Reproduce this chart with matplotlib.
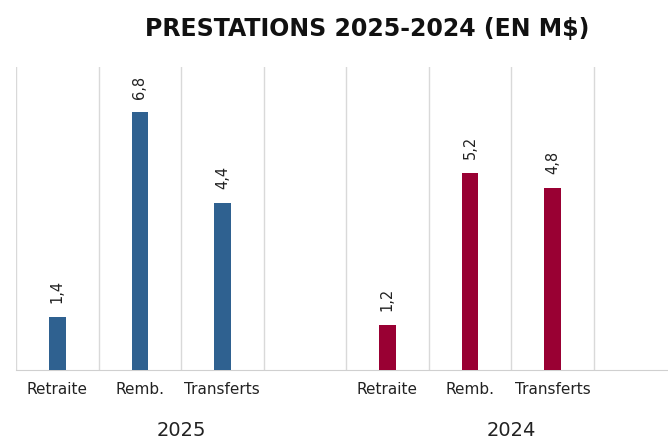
import matplotlib.pyplot as plt
import numpy as np

title = 'PRESTATIONS 2025-2024 (EN M$)'
categories = ['Retraite', 'Remb.', 'Transferts']
groups = ['2025', '2024']
values_2025 = [1.4, 6.8, 4.4]
values_2024 = [1.2, 5.2, 4.8]
colors = ['#2f6190', '#990033']


def fmt(v):
    return '{:.1f}'.format(v).replace('.', ',')


fig = plt.figure(figsize=(6.68, 4.41), dpi=100)
ax = fig.add_axes([0.024, 0.161, 0.976, 0.687])

n = len(categories)
all_pos = []
for gi, (vals, color) in enumerate(zip([values_2025, values_2024], colors)):
    pos = np.arange(n) + gi * (n + 1)
    all_pos.extend(pos)
    ax.bar(pos, vals, width=0.2, color=color, zorder=3)
    for x, v in zip(pos, vals):
        ax.annotate(fmt(v), (x, v), xytext=(0, 10), textcoords='offset points',
                    rotation=90, ha='center', va='bottom', fontsize=10.5, color='#222222')
    ax.text(pos.mean() + 0.5, -0.2, groups[gi], transform=ax.get_xaxis_transform(),
            ha='center', va='center', fontsize=14, color='#222222')

ax.set_xlim(-0.5, 7.4)
ax.set_ylim(0, 8)
ax.set_xticks(all_pos)
ax.set_xticklabels(categories * 2, fontsize=11, color='#222222')
ax.tick_params(axis='x', length=0, pad=9)
ax.set_yticks([])

ax.set_xticks(np.arange(-0.5, 7.5, 1.0), minor=True)
ax.tick_params(axis='x', which='minor', length=0)
ax.grid(axis='x', which='minor', color='#d9d9d9', linewidth=1, zorder=0)
ax.grid(axis='x', which='major', visible=False)

for side in ['top', 'right', 'left']:
    ax.spines[side].set_visible(False)
ax.spines['bottom'].set_color('#d0d0d0')

fig.text(0.55, 0.935, title, ha='center', va='center', fontsize=17,
         fontweight='bold', color='#111111')

fig.savefig('out.png', dpi=100)
